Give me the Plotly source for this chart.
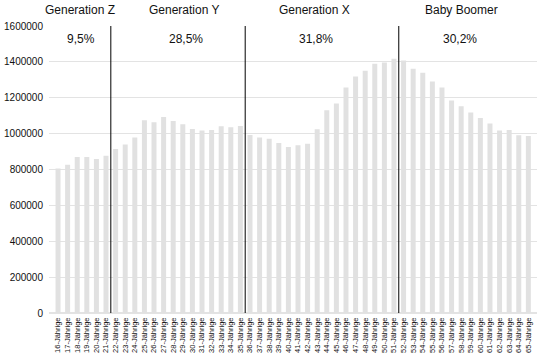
import plotly.graph_objects as go

ages = [f"{a}-Jährige" for a in range(16, 66)]
population = [
    806000, 826000, 870000, 870000, 859000, 876000,
    914000, 939000, 978000, 1074000, 1063000, 1092000, 1070000, 1052000,
    1026000, 1018000, 1020000, 1041000, 1035000, 1042000,
    992000, 979000, 972000, 948000, 926000, 935000, 944000, 1024000,
    1131000, 1168000, 1257000, 1318000, 1351000, 1390000, 1396000, 1417000,
    1407000, 1362000, 1340000, 1290000, 1257000, 1185000, 1153000, 1118000,
    1087000, 1057000, 1018000, 1020000, 991000, 987000,
]
generations = ["Generation Z", "Generation Y", "Generation X", "Baby Boomer"]
shares = ["9,5%", "28,5%", "31,8%", "30,2%"]
gen_label_pos = [2.3, 13.2, 26.7, 42.0]
share_label_pos = [2.4, 13.3, 26.9, 41.9]
boundaries = [5.5, 19.5, 35.5]
y_ticks = list(range(0, 1600001, 200000))

fig = go.Figure()
fig.add_trace(go.Bar(x=ages, y=population, marker=dict(color="#e1e1e1", line=dict(width=0)),
                     hoverinfo="x+y"))

for b in boundaries:
    fig.add_shape(type="line", xref="x", yref="y", x0=b, x1=b, y0=0, y1=1600000,
                  line=dict(color="black", width=1))

for g, p in zip(generations, gen_label_pos):
    fig.add_annotation(x=p, y=1.0, xref="x", yref="paper", yanchor="bottom", yshift=7,
                       text=g, showarrow=False, font=dict(size=12, color="#111"))
for s, p in zip(shares, share_label_pos):
    fig.add_annotation(x=p, y=1530000, xref="x", yref="y",
                       text=s, showarrow=False, font=dict(size=12, color="#111"))

fig.update_layout(
    width=539, height=361,
    margin=dict(l=49, r=2, t=26, b=48),
    plot_bgcolor="white", paper_bgcolor="white",
    font=dict(family="Liberation Sans, Arial, sans-serif", color="#111"),
    bargap=0.48,
    showlegend=False,
)
fig.update_xaxes(type="category", range=[-0.94, 49.9], tickangle=-90,
                 tickmode="linear", dtick=1, tick0=0,
                 tickfont=dict(size=7.5), showgrid=False, ticks="", ticklen=0,
                 showline=False, zeroline=False, automargin=False,
                 ticklabelstandoff=2)
fig.update_yaxes(range=[0, 1600000], tickvals=y_ticks, ticktext=[str(v) for v in y_ticks],
                 tickfont=dict(size=10), showgrid=True, gridcolor="#e3e3e3", gridwidth=1,
                 zeroline=True, zerolinecolor="#e3e3e3", showline=False, ticks="",
                 ticklabelstandoff=5, automargin=False)

fig.write_html("out.html", config={"displayModeBar": False},
               post_script="document.body.style.margin='0';")
